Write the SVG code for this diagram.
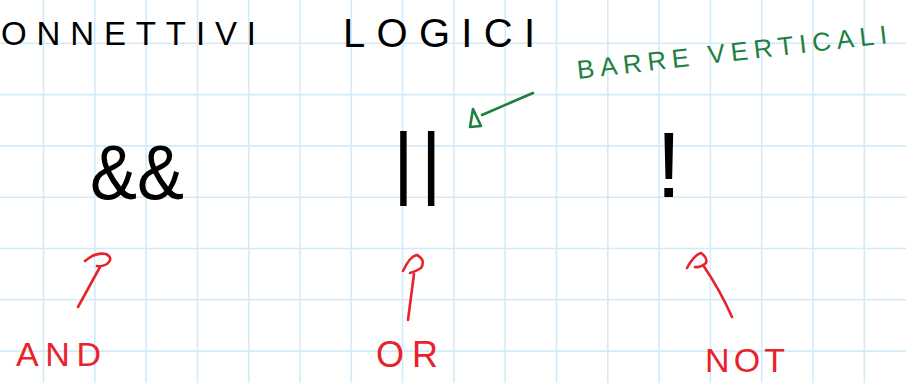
<svg xmlns="http://www.w3.org/2000/svg" width="906" height="383" viewBox="0 0 906 383">
<style>
.grid{stroke:#d3eaf9;stroke-width:1.6;fill:none}
.ink{font-family:"Liberation Sans","DejaVu Sans",sans-serif;fill:#000}
.red{font-family:"Liberation Sans","DejaVu Sans",sans-serif;fill:#e8232b}
.green{font-family:"Liberation Sans","DejaVu Sans",sans-serif;fill:#1e8040}
.rs{stroke:#e8232b;stroke-width:2.6;fill:none;stroke-linecap:round;stroke-linejoin:round}
.gs{stroke:#1e8040;stroke-width:2.6;fill:none;stroke-linecap:round;stroke-linejoin:round}
</style>
<rect width="906" height="383" fill="#fff"/>
<g id="grid">
<path class="grid" d="M43.5 0V383M94.8 0V383M146.1 0V383M197.4 0V383M248.7 0V383M300 0V383M351.3 0V383M402.6 0V383M453.9 0V383M505.2 0V383M556.5 0V383M607.8 0V383M659.1 0V383M710.4 0V383M761.7 0V383M813 0V383M864.3 0V383"/>
<path class="grid" d="M0 43.3H906M0 94.6H906M0 145.9H906M0 197.2H906M0 248.5H906M0 299.8H906M0 351.1H906"/>
</g>
<g id="title">
<text class="ink" x="1" y="45" font-size="33" textLength="255" lengthAdjust="spacing">ONNETTIVI</text>
<text class="ink" x="343" y="47" font-size="40" textLength="192" lengthAdjust="spacing">LOGICI</text>
</g>
<g id="and-symbol"><text class="ink" x="90" y="199" font-size="78" textLength="94" lengthAdjust="spacingAndGlyphs">&amp;&amp;</text></g>
<g id="or-symbol"><text class="ink" x="393" y="189" font-size="80" letter-spacing="7">||</text></g>
<g id="not-symbol"><text class="ink" x="656" y="197" font-size="92">!</text></g>
<g id="barre-label"><text class="green" x="0" y="0" font-size="26" textLength="312" lengthAdjust="spacing" transform="translate(578 79) rotate(-6.6)">BARRE VERTICALI</text></g>
<g id="and-label"><text class="red" x="16" y="366" font-size="34" textLength="85" lengthAdjust="spacing">AND</text></g>
<g id="or-label"><text class="red" x="376" y="367" font-size="36" textLength="62" lengthAdjust="spacing">OR</text></g>
<g id="not-label"><text class="red" x="705" y="372" font-size="34" textLength="80" lengthAdjust="spacing">NOT</text></g>
<g id="connectors">
<path class="gs" d="M533 93 Q510 103 482 115"/>
<path class="gs" d="M470 127 L473 109 L481 126 Z"/>
<path class="rs" d="M78 307 L100 267"/>
<path class="rs" d="M85 261 Q95 252 106 254 Q114 258 107 264 Q102 267 97 266"/>
<path class="rs" d="M408 320 L414 274"/>
<path class="rs" d="M403 271 Q410 256 417 255 Q426 260 421 268 Q415 272 410 273"/>
<path class="rs" d="M732 317 Q720 290 703 265"/>
<path class="rs" d="M687 268 Q694 255 701 253 Q708 258 706 263 Q700 268 695 267"/>
</g>
</svg>
